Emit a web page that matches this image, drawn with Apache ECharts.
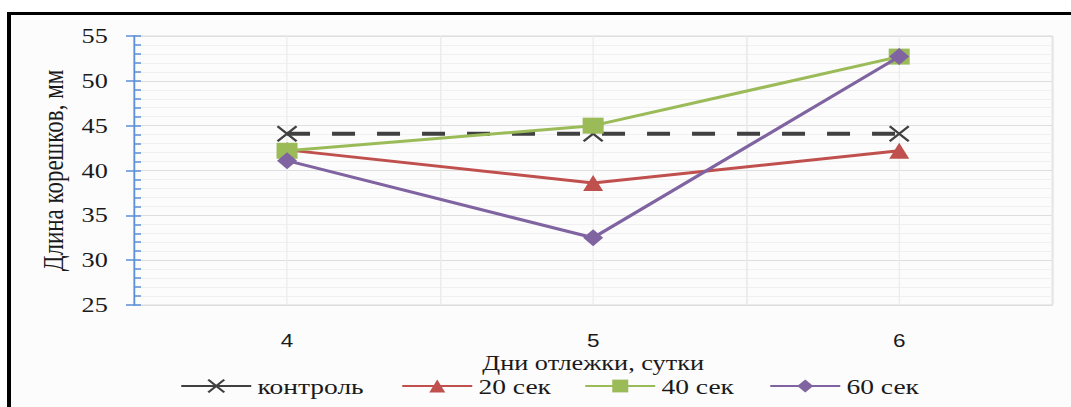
<!DOCTYPE html>
<html>
<head>
<meta charset="utf-8">
<script src="https://cdn.jsdelivr.net/npm/echarts@6/dist/echarts.min.js"></script>
<style>
  html, body { margin: 0; padding: 0; background: #ffffff; overflow: hidden; }
  /* the chart is laid out narrower and widened horizontally */
  #chart { width: 856.8px; height: 407px; transform: scaleX(1.25); transform-origin: 0 0; }
</style>
</head>
<body>
<div id="chart"></div>
<script>
// Days of storage (x categories)
const days = ['4', '5', '6'];
// Root length, mm, per treatment
const control = [44.1, 44.1, 44.1];
const sec20 = [42.3, 38.6, 42.2];
const sec40 = [42.2, 45.0, 52.7];
const sec60 = [41.1, 32.5, 52.7];
const seriesNames = ['контроль', '20 сек', '40 сек', '60 сек'];
// Y axis range and step
const yMin = 25, yMax = 55, yStep = 5;

const SX = 1.25;                       // horizontal widening of the whole chart
const px = v => v / SX;                // screen x -> layout x
const serif = '"Liberation Serif", "DejaVu Serif", serif';
const crossPath = 'path://M0,0 L10,10 M10,0 L0,10';
const ink = '#1a1a1a';

const chart = echarts.init(document.getElementById('chart'), null, { renderer: 'svg' });

function legendAt(name, leftScreen, extra) {
  return Object.assign({
    left: px(leftScreen), top: 375, padding: 0,
    itemWidth: px(70), itemHeight: 16, itemGap: 0,
    textStyle: { fontFamily: serif, fontSize: 22, lineHeight: 22, color: ink, padding: [0, 0, 0, 0] },
    data: [{ name: name }]
  }, extra || {});
}

const option = {
  backgroundColor: '#fcfcfc',
  animation: false,
  graphic: [
    { type: 'rect', shape: { x: 0, y: 0, width: px(1071), height: 12 }, style: { fill: '#ffffff' }, silent: true },
    { type: 'rect', shape: { x: 0, y: 0, width: px(7), height: 407 }, style: { fill: '#ffffff' }, silent: true },
    { type: 'rect', shape: { x: px(7), y: 12, width: px(1064), height: 3 }, style: { fill: '#000000' }, silent: true },
    { type: 'rect', shape: { x: px(7), y: 12, width: px(4), height: 395 }, style: { fill: '#000000' }, silent: true }
  ],
  grid: {
    left: px(134), right: px(19), top: 36, bottom: 102,
    show: true, borderColor: '#d9d9d9', borderWidth: 1, backgroundColor: 'transparent'
  },
  legend: [
    legendAt(seriesNames[0], 180, { data: [{ name: seriesNames[0], lineStyle: { type: 'solid' } }] }),
    legendAt(seriesNames[1], 401),
    legendAt(seriesNames[2], 584),
    legendAt(seriesNames[3], 769)
  ],
  xAxis: [
    {
      type: 'category',
      data: days,
      boundaryGap: true,
      name: 'Дни отлежки, сутки',
      nameLocation: 'middle',
      nameGap: 47,
      nameMoveOverlap: false,
      nameTextStyle: { fontFamily: serif, fontSize: 21, lineHeight: 21, color: ink },
      axisLine: { show: false },
      axisTick: { show: false },
      axisLabel: { fontFamily: '"Liberation Sans", Arial, sans-serif', fontSize: 18, lineHeight: 18, color: ink, margin: 27 },
      splitLine: { show: true, lineStyle: { color: '#e4e4e4', width: 1 } }
    },
    {
      // extra grid lines through each category centre
      type: 'value', min: 3.5, max: 6.5, interval: 0.5,
      show: true, position: 'bottom',
      axisLine: { show: false }, axisTick: { show: false }, axisLabel: { show: false },
      splitLine: { show: true, lineStyle: { color: '#ececec', width: 1 } }
    }
  ],
  yAxis: [
    {
      type: 'value', min: yMin, max: yMax, interval: yStep,
      name: 'Длина корешков, мм',
      nameLocation: 'middle',
      nameGap: 46,
      nameTextStyle: { fontFamily: serif, fontSize: 23, color: ink },
      axisLine: { show: true, lineStyle: { color: '#5b8fd6', width: 1.4 } },
      axisTick: { show: true, inside: false, length: px(8), lineStyle: { color: '#5b8fd6', width: 1.5 } },
      axisLabel: { fontFamily: serif, fontSize: 21, color: ink, margin: 21 },
      splitLine: { show: true, lineStyle: { color: '#dedede', width: 1.2 } },
      minorSplitLine: { show: true, lineStyle: { color: '#f0f0f0', width: 1 } },
      minorTick: { show: false, splitNumber: 5 }
    },
    {
      // inner ticks, including the minor ones
      type: 'value', min: yMin, max: yMax, interval: yStep, position: 'left',
      axisLine: { show: false },
      axisTick: { show: true, inside: true, length: px(7), lineStyle: { color: '#5b8fd6', width: 1.5 } },
      minorTick: { show: true, splitNumber: 5, length: px(7), lineStyle: { color: '#5b8fd6', width: 1.5 } },
      axisLabel: { show: false },
      splitLine: { show: false }
    }
  ],
  series: [
    {
      name: seriesNames[0], type: 'line', data: control,
      color: '#404040',
      lineStyle: { color: '#404040', width: 4, type: [px(23), px(22)] },
      symbol: crossPath, symbolSize: [px(19), 15],
      itemStyle: { color: 'rgba(0,0,0,0)', borderColor: '#404040', borderWidth: 2 },
      z: 2
    },
    {
      name: seriesNames[1], type: 'line', data: sec20,
      color: '#c0504d',
      lineStyle: { color: '#c0504d', width: 3 },
      symbol: 'triangle', symbolSize: [px(20), 16],
      itemStyle: { color: '#c0504d' },
      z: 3
    },
    {
      name: seriesNames[2], type: 'line', data: sec40,
      color: '#9bbb59',
      lineStyle: { color: '#9bbb59', width: 3 },
      symbol: 'rect', symbolSize: [px(21), 16],
      itemStyle: { color: '#9bbb59' },
      z: 4
    },
    {
      name: seriesNames[3], type: 'line', data: sec60,
      color: '#8064a2',
      lineStyle: { color: '#8064a2', width: 3 },
      symbol: 'diamond', symbolSize: [px(20), 17],
      itemStyle: { color: '#8064a2' },
      z: 5
    }
  ]
};

chart.setOption(option);
</script>
</body>
</html>
